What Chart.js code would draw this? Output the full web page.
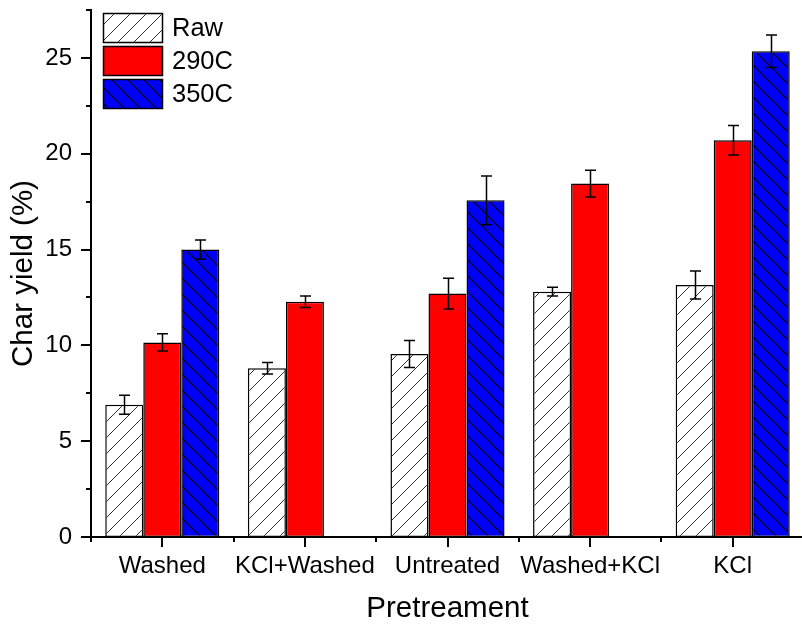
<!DOCTYPE html>
<html>
<head>
<meta charset="utf-8">
<title>Char yield</title>
<script src="https://cdn.jsdelivr.net/npm/chart.js@4.4.1/dist/chart.umd.min.js"></script>
<style>
  html, body { margin: 0; padding: 0; background: #fff; overflow: hidden; }
  #chart { display: block; }
</style>
</head>
<body>
<canvas id="chart" width="804" height="628"></canvas>
<script>
// data
const categories = ['Washed', 'KCl+Washed', 'Untreated', 'Washed+KCl', 'KCl'];
const seriesNames = ['Raw', '290C', '350C'];
const rawValues = [6.9, 8.8, 9.55, 12.8, 13.15];
const rawErrors = [0.5, 0.3, 0.7, 0.23, 0.73];
const t290Values = [10.15, 12.27, 12.7, 18.44, 20.7];
const t290Errors = [0.45, 0.3, 0.8, 0.7, 0.77];
const t350Values = [15.0, null, 17.57, null, 25.35];
const t350Errors = [0.5, null, 1.27, null, 0.85];
const yLabels = [0, 5, 10, 15, 20, 25];

const FONT = "'Liberation Sans', Arial, sans-serif";

// hatch fill
function makeHatch(bg, lineColor, lineWidth, dir) {
    const s = 16;
    const c = document.createElement('canvas');
    c.width = s; c.height = s;
    const g = c.getContext('2d');
    g.fillStyle = bg;
    g.fillRect(0, 0, s, s);
    g.strokeStyle = lineColor;
    g.lineWidth = lineWidth;
    g.beginPath();
    if (dir === '/') {
        g.moveTo(-2, s + 2); g.lineTo(s + 2, -2);
        g.moveTo(-2, 2); g.lineTo(2, -2);
        g.moveTo(s - 2, s + 2); g.lineTo(s + 2, s - 2);
    } else {
        g.moveTo(-2, -2); g.lineTo(s + 2, s + 2);
        g.moveTo(s - 2, -2); g.lineTo(s + 2, 2);
        g.moveTo(-2, s - 2); g.lineTo(2, s + 2);
    }
    g.stroke();
    return g.createPattern(c, 'repeat');
}

const ctx = document.getElementById('chart').getContext('2d');
const rawFill = makeHatch('#ffffff', '#333333', 1, '/');
const blueFill = makeHatch('#0000ff', '#000000', 1.2, '\\');

const errorSets = [rawErrors, t290Errors, t350Errors];

// error bars
const errorBars = {
    id: 'errorBars',
    afterDatasetsDraw(chart) {
        const c = chart.ctx, y = chart.scales.y;
        c.save();
        c.strokeStyle = '#000';
        c.lineWidth = 1.5;
        chart.data.datasets.forEach((ds, di) => {
            const meta = chart.getDatasetMeta(di);
            meta.data.forEach((bar, i) => {
                const v = ds.data[i], e = errorSets[di][i];
                if (v == null || e == null) return;
                const top = y.getPixelForValue(v + e);
                const bot = y.getPixelForValue(v - e);
                const x = Math.round(bar.x) + 0.5;
                c.beginPath();
                c.moveTo(x, top); c.lineTo(x, bot);
                c.moveTo(x - 5.5, top); c.lineTo(x + 5.5, top);
                c.moveTo(x - 5.5, bot); c.lineTo(x + 5.5, bot);
                c.stroke();
            });
        });
        c.restore();
    }
};

// major / minor tick marks, drawn outward
const tickMarks = {
    id: 'tickMarks',
    afterDraw(chart) {
        const c = chart.ctx, xs = chart.scales.x, ys = chart.scales.y;
        c.save();
        c.strokeStyle = '#000';
        c.lineWidth = 2;
        c.beginPath();
        ys.ticks.forEach(t => {
            const py = Math.round(ys.getPixelForValue(t.value));
            const len = yLabels.includes(t.value) ? 10 : 5;
            c.moveTo(ys.right - len, py); c.lineTo(ys.right, py);
        });
        const half = (xs.getPixelForTick(1) - xs.getPixelForTick(0)) / 2;
        categories.forEach((cat, i) => {
            const px = Math.round(xs.getPixelForTick(i));
            c.moveTo(px, xs.top); c.lineTo(px, xs.top + 10);
            const mx = Math.round(xs.getPixelForTick(i) - half);
            c.moveTo(mx, xs.top); c.lineTo(mx, xs.top + 5);
        });
        c.stroke();
        c.restore();
    }
};

// legend in the top left corner of the plot
const boxLegend = {
    id: 'boxLegend',
    afterDraw(chart) {
        const c = chart.ctx;
        c.save();
        c.font = '25.5px ' + FONT;
        c.textBaseline = 'middle';
        c.textAlign = 'left';
        seriesNames.forEach((name, i) => {
            const bx = 103.5, by = 13.5 + i * 33, bw = 59, bh = 29;
            c.fillStyle = chart.data.datasets[i].backgroundColor;
            c.fillRect(bx, by, bw, bh);
            c.strokeStyle = '#000';
            c.lineWidth = 1.5;
            c.strokeRect(bx, by, bw, bh);
            c.fillStyle = '#000';
            c.fillText(name, 172, by + bh / 2 + 1);
        });
        c.restore();
    }
};

new Chart(ctx, {
    type: 'bar',
    data: {
        labels: categories,
        datasets: [
            { label: seriesNames[0], data: rawValues, backgroundColor: rawFill },
            { label: seriesNames[1], data: t290Values, backgroundColor: '#ff0000' },
            { label: seriesNames[2], data: t350Values, backgroundColor: blueFill }
        ]
    },
    options: {
        responsive: false,
        animation: false,
        devicePixelRatio: 1,
        layout: { padding: { top: 10, right: 0, bottom: 0, left: 0 } },
        datasets: {
            bar: {
                borderColor: '#000',
                borderWidth: 1.5,
                borderSkipped: false,
                barPercentage: 1,
                categoryPercentage: 0.8
            }
        },
        plugins: {
            legend: { display: false },
            tooltip: { enabled: false }
        },
        scales: {
            x: {
                offset: true,
                grid: { display: false, drawTicks: false },
                border: { display: true, color: '#000', width: 2 },
                ticks: {
                    color: '#000',
                    font: { family: FONT, size: 24 },
                    padding: 15,
                    maxRotation: 0,
                    autoSkip: false
                },
                title: {
                    display: true,
                    text: 'Pretreament',
                    color: '#000',
                    font: { family: FONT, size: 29.5 },
                    padding: { top: 0, bottom: 1 }
                },
                afterFit(scale) {
                    scale.height = 91;
                    scale.paddingLeft = 0;
                    scale.paddingRight = 0;
                }
            },
            y: {
                min: 0,
                max: 27.5,
                grid: { display: false, drawTicks: false },
                border: { display: true, color: '#000', width: 2 },
                ticks: {
                    stepSize: 2.5,
                    color: '#000',
                    font: { family: FONT, size: 24 },
                    padding: 19,
                    callback: v => yLabels.includes(v) ? String(v) : ''
                },
                title: {
                    display: true,
                    text: 'Char yield (%)',
                    color: '#000',
                    font: { family: FONT, size: 29.5 },
                    padding: { top: 6, bottom: 0 }
                },
                afterFit(scale) {
                    scale.width = 91;
                    scale.paddingTop = 0;
                    scale.paddingBottom = 0;
                }
            }
        }
    },
    plugins: [errorBars, tickMarks, boxLegend]
});
</script>
</body>
</html>
